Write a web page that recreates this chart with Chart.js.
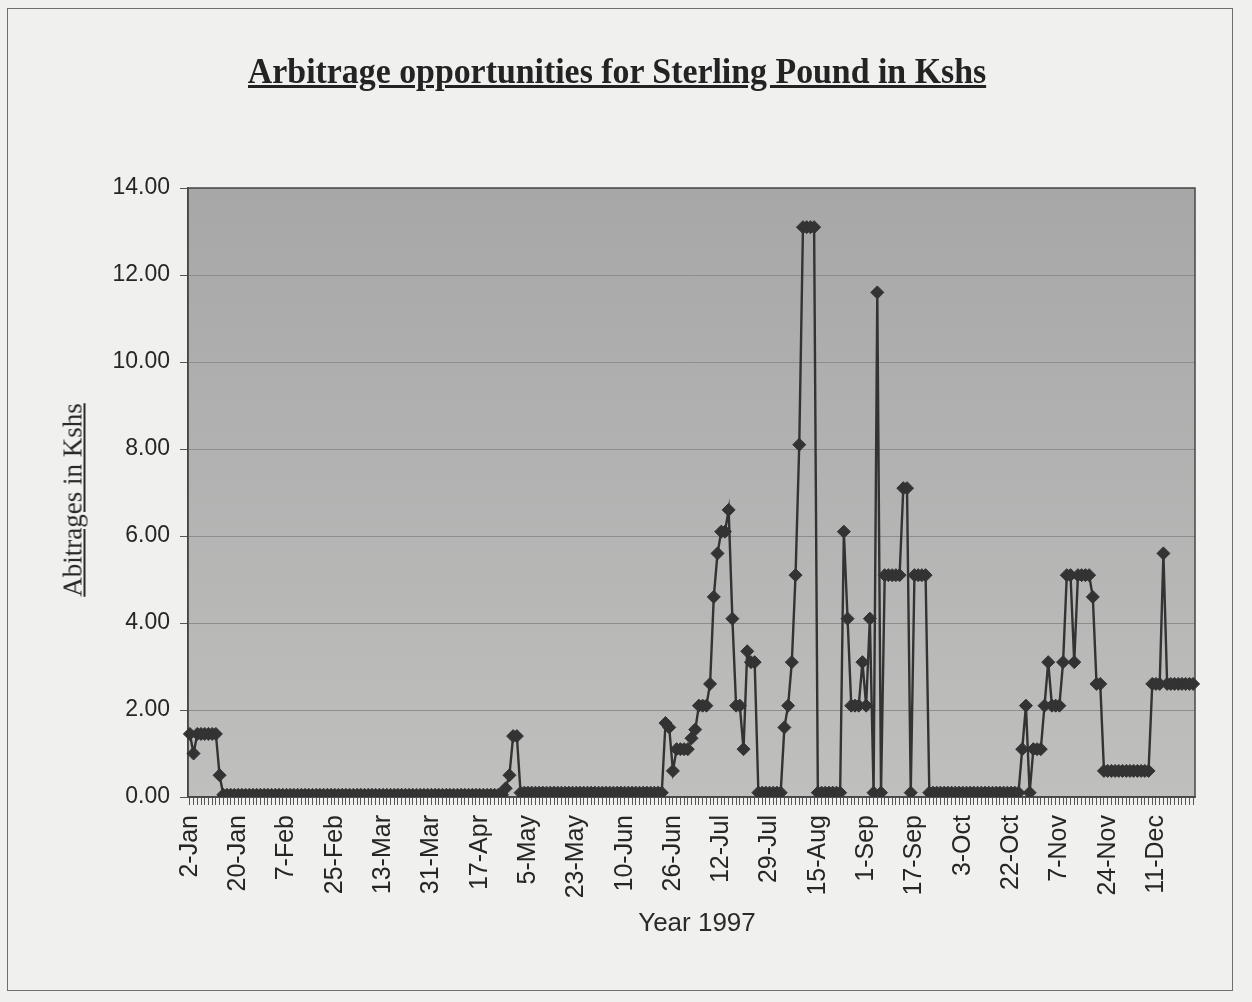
<!DOCTYPE html>
<html>
<head>
<meta charset="utf-8">
<title>Arbitrage opportunities for Sterling Pound in Kshs</title>
<script src="https://cdn.jsdelivr.net/npm/chart.js@4.4.1/dist/chart.umd.min.js"></script>
<style>
    html, body { margin: 0; padding: 0; background: #f0f0ee; }
    #wrap { position: relative; width: 1252px; height: 1002px; overflow: hidden; }
    #frame { position: absolute; left: 7px; top: 8px; width: 1224px; height: 981px; border: 1px solid #6e6e6e; }
    #chart { position: absolute; left: 0; top: 0; }
    .title {
        position: absolute; left: 617px; top: 50px; transform: translateX(-50%) scaleX(0.94);
        white-space: nowrap;
        font: bold 36px "Liberation Serif", "Times New Roman", serif;
        text-decoration: underline; color: #232323;
    }
    .ytitle {
        position: absolute; left: 73px; top: 500px; width: 320px; text-align: center;
        transform: translate(-50%, -50%) rotate(-90deg);
        font: 27px "Liberation Serif", "Times New Roman", serif;
        text-decoration: underline; color: #2a2a2a;
    }
    .xtitle {
        position: absolute; left: 697px; top: 922px; transform: translate(-50%, -50%);
        font: 26px "Liberation Sans", Arial, sans-serif; color: #2a2a2a; white-space: nowrap;
    }
</style>
</head>
<body>
<div id="wrap">
    <div id="frame"></div>
    <canvas id="chart" width="1252" height="1002"></canvas>
    <div class="title">Arbitrage opportunities for Sterling Pound in Kshs</div>
    <div class="ytitle">Abitrages in Kshs</div>
    <div class="xtitle">Year 1997</div>
</div>
<script>
// tick labels shown on the category axis (one every 13 trading days)
const tickLabels = ['2-Jan', '20-Jan', '7-Feb', '25-Feb', '13-Mar', '31-Mar', '17-Apr', '5-May',
    '23-May', '10-Jun', '26-Jun', '12-Jul', '29-Jul', '15-Aug', '1-Sep', '17-Sep', '3-Oct',
    '22-Oct', '7-Nov', '24-Nov', '11-Dec'];
const labelStep = 13;

// arbitrage per trading day, Kshs
const arbitrage = [
    1.45, 1.0, 1.45, 1.45, 1.45, 1.45, 1.45, 1.45, 0.5, 0.05,
    0.05, 0.05, 0.05, 0.05, 0.05, 0.05, 0.05, 0.05, 0.05, 0.05,
    0.05, 0.05, 0.05, 0.05, 0.05, 0.05, 0.05, 0.05, 0.05, 0.05,
    0.05, 0.05, 0.05, 0.05, 0.05, 0.05, 0.05, 0.05, 0.05, 0.05,
    0.05, 0.05, 0.05, 0.05, 0.05, 0.05, 0.05, 0.05, 0.05, 0.05,
    0.05, 0.05, 0.05, 0.05, 0.05, 0.05, 0.05, 0.05, 0.05, 0.05,
    0.05, 0.05, 0.05, 0.05, 0.05, 0.05, 0.05, 0.05, 0.05, 0.05,
    0.05, 0.05, 0.05, 0.05, 0.05, 0.05, 0.05, 0.05, 0.05, 0.05,
    0.05, 0.05, 0.05, 0.05, 0.05, 0.2, 0.5, 1.4, 1.4, 0.1,
    0.1, 0.1, 0.1, 0.1, 0.1, 0.1, 0.1, 0.1, 0.1, 0.1,
    0.1, 0.1, 0.1, 0.1, 0.1, 0.1, 0.1, 0.1, 0.1, 0.1,
    0.1, 0.1, 0.1, 0.1, 0.1, 0.1, 0.1, 0.1, 0.1, 0.1,
    0.1, 0.1, 0.1, 0.1, 0.1, 0.1, 0.1, 0.1, 1.7, 1.6,
    0.6, 1.1, 1.1, 1.1, 1.1, 1.35, 1.55, 2.1, 2.1, 2.1,
    2.6, 4.6, 5.6, 6.1, 6.1, 6.6, 4.1, 2.1, 2.1, 1.1,
    3.35, 3.1, 3.1, 0.1, 0.1, 0.1, 0.1, 0.1, 0.1, 0.1,
    1.6, 2.1, 3.1, 5.1, 8.1, 13.1, 13.1, 13.1, 13.1, 0.1,
    0.1, 0.1, 0.1, 0.1, 0.1, 0.1, 6.1, 4.1, 2.1, 2.1,
    2.1, 3.1, 2.1, 4.1, 0.1, 11.6, 0.1, 5.1, 5.1, 5.1,
    5.1, 5.1, 7.1, 7.1, 0.1, 5.1, 5.1, 5.1, 5.1, 0.1,
    0.1, 0.1, 0.1, 0.1, 0.1, 0.1, 0.1, 0.1, 0.1, 0.1,
    0.1, 0.1, 0.1, 0.1, 0.1, 0.1, 0.1, 0.1, 0.1, 0.1,
    0.1, 0.1, 0.1, 0.1, 1.1, 2.1, 0.1, 1.1, 1.1, 1.1,
    2.1, 3.1, 2.1, 2.1, 2.1, 3.1, 5.1, 5.1, 3.1, 5.1,
    5.1, 5.1, 5.1, 4.6, 2.6, 2.6, 0.6, 0.6, 0.6, 0.6,
    0.6, 0.6, 0.6, 0.6, 0.6, 0.6, 0.6, 0.6, 0.6, 2.6,
    2.6, 2.6, 5.6, 2.6, 2.6, 2.6, 2.6, 2.6, 2.6, 2.6,
    2.6
];

const yMin = 0;
const yMax = 14;
const yStep = 2;

// one category per trading day, label only every 13th
const categories = arbitrage.map((v, i) => (i % labelStep === 0 && tickLabels[i / labelStep]) ? tickLabels[i / labelStep] : '');

// grey plot area with a slight vertical shading like the scan
const plotBackground = {
    id: 'plotBackground',
    beforeDraw: (chart) => {
        const { ctx, chartArea: a } = chart;
        const g = ctx.createLinearGradient(0, a.top, 0, a.bottom);
        g.addColorStop(0, '#a7a7a7');
        g.addColorStop(1, '#bfbfbe');
        ctx.save();
        ctx.fillStyle = g;
        ctx.fillRect(a.left, a.top, a.right - a.left, a.bottom - a.top);
        ctx.restore();
    },
    beforeDatasetsDraw: (chart) => {
        const { ctx, chartArea: a } = chart;
        ctx.save();
        ctx.strokeStyle = '#474747';
        ctx.lineWidth = 1.5;
        ctx.strokeRect(a.left, a.top, a.right - a.left, a.bottom - a.top);
        ctx.restore();
    }
};

const ctx = document.getElementById('chart').getContext('2d');
new Chart(ctx, {
    type: 'line',
    data: {
        labels: categories,
        datasets: [{
            data: arbitrage,
            borderColor: '#333333',
            borderWidth: 2.4,
            pointStyle: 'rectRot',
            pointRadius: 6.5,
            pointBackgroundColor: '#333333',
            pointBorderColor: '#333333',
            pointBorderWidth: 1,
            tension: 0
        }]
    },
    options: {
        responsive: false,
        animation: false,
        layout: { padding: { left: 0, top: 188, right: 57, bottom: 0 } },
        plugins: {
            legend: { display: false },
            tooltip: { enabled: false }
        },
        scales: {
            x: {
                type: 'category',
                offset: true,
                grid: { drawOnChartArea: false, drawTicks: true, tickLength: 8, tickColor: '#555555', color: '#555555' },
                border: { display: true, color: '#474747', width: 1.5 },
                ticks: {
                    autoSkip: false, minRotation: 90, maxRotation: 90, padding: 10,
                    color: '#262626', font: { family: 'Liberation Sans', size: 25 }
                },
                afterFit: (scale) => { scale.height = 205; }
            },
            y: {
                min: yMin,
                max: yMax,
                grid: { color: '#8d8d8d', lineWidth: 1, tickLength: 8, tickColor: '#555555' },
                border: { display: true, color: '#474747', width: 1.5 },
                ticks: {
                    stepSize: yStep, padding: 10,
                    color: '#262626', font: { family: 'Liberation Sans', size: 23 },
                    callback: (v) => Number(v).toFixed(2)
                },
                afterFit: (scale) => { scale.width = 188; }
            }
        }
    },
    plugins: [plotBackground]
});
</script>
</body>
</html>
